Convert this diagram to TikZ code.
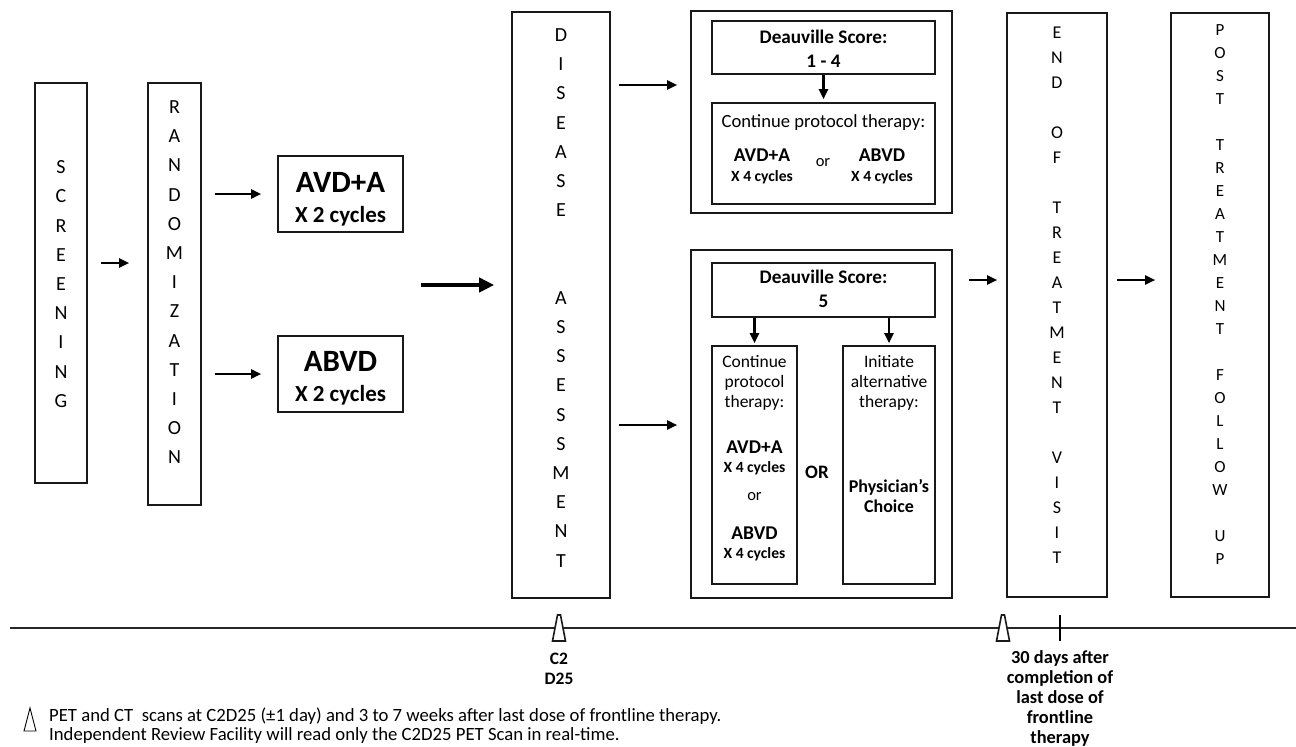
\documentclass[tikz,border=0pt]{standalone}
\usepackage{fontspec}
\setmainfont{Carlito}
\usetikzlibrary{arrows.meta,positioning}

\tikzset{
  box/.style={draw=black!90, line width=1.6pt, inner sep=0pt},
  letters/.style={align=center, inner sep=0pt, anchor=north, font=\fontsize{20}{29.2}\selectfont},
  label/.style={align=center, inner sep=0pt},
  arr/.style={line width=2.2pt, -{Triangle[length=10pt,width=9pt]}},
  bigarr/.style={line width=4.2pt, -{Triangle[length=15pt,width=14pt]}},
  scanmark/.style={draw=black!90, fill=white, line width=1.6pt},
}

\begin{document}
\begin{tikzpicture}[x=1pt, y=-1pt]
    \useasboundingbox (0,0) rectangle (1296,747);

    % Study stages
    \node[box, minimum width=52pt, minimum height=400pt] (screen) at (61,283) {};
    \node[letters] (screentxt) at (61,160.5) {S\\C\\R\\E\\E\\N\\I\\N\\G};

    \node[box, minimum width=53pt, minimum height=422pt] (rand) at (174.5,294) {};
    \node[letters] (randtxt) at (174.5,100.5) {R\\A\\N\\D\\O\\M\\I\\Z\\A\\T\\I\\O\\N};

    \node[box, minimum width=125pt, minimum height=76pt] (avda) at (340.5,194) {};
    \node[label, font=\bfseries\fontsize{23}{29.5}\selectfont] (avdatxt) at (340.5,199.5)
        {{\fontsize{31}{30}\selectfont AVD+A}\\X 2 cycles};

    \node[box, minimum width=125pt, minimum height=76pt] (abvd) at (340.5,374) {};
    \node[label, font=\bfseries\fontsize{23}{30.5}\selectfont] (abvdtxt) at (340.5,378.5)
        {{\fontsize{31}{30}\selectfont ABVD}\\X 2 cycles};

    \node[box, minimum width=98pt, minimum height=586pt] (disease) at (561,305) {};
    \node[letters] (diseasetxt) at (561,28.5)
        {D\\I\\S\\E\\A\\S\\E\\~\\~\\A\\S\\S\\E\\S\\S\\M\\E\\N\\T};

    % Deauville 1 - 4
    \node[box, minimum width=261pt, minimum height=202pt] (dsgood) at (821.5,112) {};
    \node[box, minimum width=223pt, minimum height=53pt] (ds14) at (823.5,47.5) {};
    \node[label, font=\bfseries\fontsize{19.2}{24}\selectfont] (ds14txt) at (823.5,49)
        {Deauville Score:\\1 - 4};
    \node[box, minimum width=223pt, minimum height=101pt] (cont14) at (823.5,153.5) {};
    \node[label, font=\fontsize{18.6}{20}\selectfont] (cont14txt) at (823.5,123)
        {Continue protocol therapy:};
    \node[label, font=\bfseries\fontsize{15.6}{20}\selectfont] (avda14) at (762,166.4)
        {{\fontsize{19.5}{20}\selectfont AVD+A}\\X 4 cycles};
    \node[label, font=\fontsize{16.5}{20}\selectfont] (or14) at (823,163) {or};
    \node[label, font=\bfseries\fontsize{15.6}{20}\selectfont] (abvd14) at (882,166.4)
        {{\fontsize{19.5}{20}\selectfont ABVD}\\X 4 cycles};

    % Deauville 5
    \node[box, minimum width=261pt, minimum height=348pt] (dsbad) at (821.5,424) {};
    \node[box, minimum width=223pt, minimum height=54pt] (ds5) at (823.5,290) {};
    \node[label, font=\bfseries\fontsize{19.2}{24}\selectfont] (ds5txt) at (823.5,289)
        {Deauville Score:\\5};
    \node[box, minimum width=85pt, minimum height=238pt] (cont5) at (754.5,465) {};
    \node[label, font=\fontsize{17.5}{20}\selectfont] (cont5txt) at (754.5,383)
        {Continue\\protocol\\therapy:};
    \node[label, font=\bfseries\fontsize{15.6}{19}\selectfont] (avda5) at (754.5,457.4)
        {{\fontsize{19.5}{20}\selectfont AVD+A}\\X 4 cycles};
    \node[label, font=\fontsize{16.5}{20}\selectfont] (or5) at (754.5,497) {or};
    \node[label, font=\bfseries\fontsize{15.6}{19}\selectfont] (abvd5) at (754.5,543.9)
        {{\fontsize{19.5}{20}\selectfont ABVD}\\X 4 cycles};
    \node[label, font=\bfseries\fontsize{19}{20}\selectfont] (ortxt) at (817,472) {OR};
    \node[box, minimum width=92pt, minimum height=238pt] (alt5) at (889,465) {};
    \node[label, font=\fontsize{17.5}{20}\selectfont] (alt5txt) at (889,383)
        {Initiate\\alternative\\therapy:};
    \node[label, font=\bfseries\fontsize{18}{20}\selectfont] (choicetxt) at (889,496.5)
        {Physician’s\\Choice};

    \node[box, minimum width=100pt, minimum height=584pt] (eot) at (1057,305) {};
    \node[letters, font=\fontsize{18}{25}\selectfont] (eottxt) at (1057,27.2)
        {E\\N\\D\\~\\O\\F\\~\\T\\R\\E\\A\\T\\M\\E\\N\\T\\~\\V\\I\\S\\I\\T};

    \node[box, minimum width=98pt, minimum height=584pt] (post) at (1220,305) {};
    \node[letters, font=\fontsize{17}{23}\selectfont] (posttxt) at (1220,24.5)
        {P\\O\\S\\T\\~\\T\\R\\E\\A\\T\\M\\E\\N\\T\\~\\F\\O\\L\\L\\O\\W\\~\\U\\P};

    % Arrows
    \draw[arr, shorten <=13pt, shorten >=18pt] (screen.east |- 0,263) -- (rand.west |- 0,263);
    \draw[arr, shorten <=13pt, shorten >=16pt] (rand.east |- avda.west) -- (avda.west);
    \draw[arr, shorten <=13pt, shorten >=16pt] (rand.east |- abvd.west) -- (abvd.west);
    \draw[bigarr, shorten <=17pt, shorten >=17pt] (avda.east |- 0,285) -- (disease.west |- 0,285);
    \draw[arr, shorten <=8pt, shorten >=13pt] (disease.east |- 0,85) -- (dsgood.west |- 0,85);
    \draw[arr, shorten <=8pt, shorten >=13pt] (disease.east |- 0,425) -- (dsbad.west |- 0,425);
    \draw[arr, shorten >=3pt] (ds14.south) -- (cont14.north);
    \draw[arr, shorten >=2pt] (ds5.south -| cont5.north) -- (cont5.north);
    \draw[arr, shorten >=2pt] (ds5.south -| alt5.north) -- (alt5.north);
    \draw[arr, shorten <=16pt, shorten >=9pt] (dsbad.east |- 0,280) -- (eot.west |- 0,280);
    \draw[arr, shorten <=9pt, shorten >=15pt] (eot.east |- 0,280) -- (post.west |- 0,280);

    % Timeline
    \draw[line width=1.4pt, black!85] (10,628) -- (1296,628);
    \foreach \x in {559,1003}
        \draw[scanmark] (\x-1.5,615) -- (\x+1.5,615) -- (\x+6.5,641) -- (\x-6.5,641) -- cycle;
    \draw[line width=1.3pt] (1060,615) -- (1060,641);
    \node[label, font=\bfseries\fontsize{17.5}{20}\selectfont] (c2txt) at (559,669) {C2\\D25};
    \node[label, font=\bfseries\fontsize{18.4}{20.2}\selectfont] (daystxt) at (1060,698.5)
        {30 days after\\completion of\\last dose of\\frontline\\therapy};

    % Footnote
    \draw[line width=0.9pt] (24,731) -- (30,708) -- (36,731) -- cycle;
    \node[label, align=left, anchor=west, font=\fontsize{18.7}{19}\selectfont] (notetxt) at (49,725.7)
        {PET and CT\ \ scans at C2D25 (±1 day) and 3 to 7 weeks after last dose of frontline therapy.\\
         Independent Review Facility will read only the C2D25 PET Scan in real-time.};
\end{tikzpicture}
\end{document}
